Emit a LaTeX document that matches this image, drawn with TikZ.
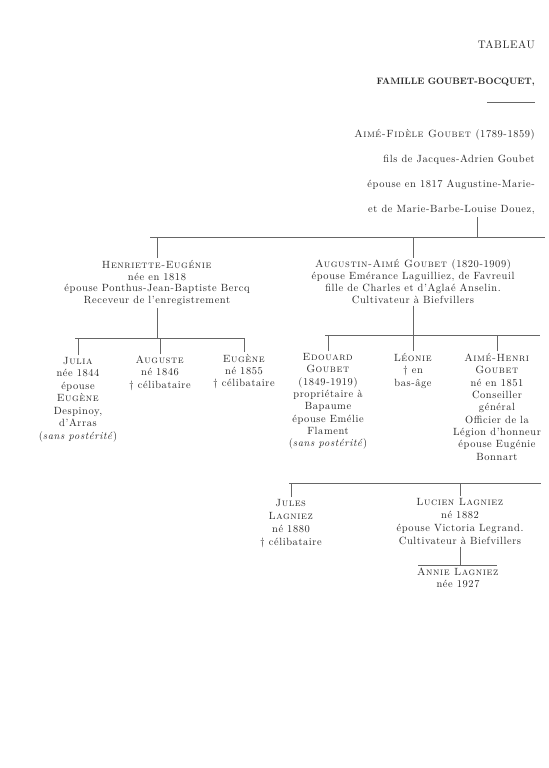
\documentclass[tikz,border=0pt]{standalone}
\usepackage{fontspec}
\setmainfont{lmroman10-regular.otf}[
  BoldFont=lmroman10-bold.otf,
  ItalicFont=lmroman10-italic.otf,
  SmallCapsFont=lmromancaps10-regular.otf,
  LetterSpace=5.5]
\definecolor{ink}{gray}{0.15}
\definecolor{rulec}{gray}{0.4}
\tikzset{
  txt/.style={align=center, inner sep=0pt, anchor=north, text=ink,
    font=\fontsize{10.5}{#1}\selectfont},
  txt/.default=12.4,
  ln/.style={draw=rulec, line width=0.6pt},
  conn/.style={ln, shorten <=2pt},
}
\begin{document}
\begin{tikzpicture}[x=1bp,y=-1bp]
\useasboundingbox[fill=white] (0,0) rectangle (549,768);
% heading
\node[txt, anchor=base east, font=\fontsize{11}{13}\selectfont] (tab) at (535,48.8) {TABLEAU};
\node[txt, anchor=base east, font=\fontsize{9.3}{11}\selectfont\bfseries\addfontfeatures{LetterSpace=0}] (fam) at (535,84.3) {FAMILLE GOUBET-BOCQUET,};
\coordinate (r1) at (487,102); \coordinate (r2) at (535,102);
\draw[ln] (r1) -- (r2);
\node[txt=25, align=right, anchor=north east] (afg) at (535,129)
 {\textsc{Aimé-Fidèle Goubet} (1789-1859)\\
  fils de Jacques-Adrien Goubet\\
  épouse en 1817 Augustine-Marie-\\
  et de Marie-Barbe-Louise Douez,};
% bar 1
\coordinate (b1L) at (150,237); \coordinate (b1R) at (545,237);
\coordinate (v0) at (477,217);
\draw[ln] (b1L) -- (b1R);
\draw[ln] (v0) -- (v0 |- b1L);
% generation 2
\node[txt=11.8] (henr) at (157,260)
 {\textsc{Henriette-Eugénie}\\
  née en 1818\\
  épouse Ponthus-Jean-Baptiste Bercq\\
  Receveur de l'enregistrement};
\node[txt=11.8] (augu) at (413,259.5)
 {\textsc{Augustin-Aimé Goubet} (1820-1909)\\
  épouse Emérance Laguilliez, de Favreuil\\
  fille de Charles et d'Aglaé Anselin.\\
  Cultivateur à Biefvillers};
\draw[conn] (henr.north) -- (henr.north |- b1L);
\draw[conn] (augu.north) -- (augu.north |- b1L);
% bar 2a
\coordinate (b2aL) at (75,338); \coordinate (b2aR) at (245,338);
\draw[ln] (b2aL) -- (b2aR);
\draw[conn] (henr.south) -- (henr.south |- b2aL);
\node[txt=12.5] (julia) at (78,357)
 {\textsc{Julia}\\née 1844\\épouse\\\textsc{Eugène}\\Despinoy,\\d'Arras\\(\textit{sans postérité})};
\node[txt=12.3] (aug2) at (160,356)
 {\textsc{Auguste}\\né 1846\\\textdagger{} célibataire};
\node[txt=12.3] (eug) at (244,354)
 {\textsc{Eugène}\\né 1855\\\textdagger{} célibataire};
\draw[conn] (julia.north) -- (julia.north |- b2aL);
\draw[conn] (aug2.north) -- (aug2.north |- b2aL);
\draw[conn] (eug.north) -- (eug.north |- b2aL);
% bar 2b
\coordinate (b2bL) at (325,335); \coordinate (b2bR) at (540,335);
\draw[ln] (b2bL) -- (b2bR);
\draw[conn] (augu.south) -- (augu.south |- b2bL);
\node[txt=12.4] (edo) at (328,353)
 {\textsc{Edouard}\\\textsc{Goubet}\\(1849-1919)\\propriétaire à\\Bapaume\\épouse Emélie\\Flament\\(\textit{sans postérité})};
\node[txt=12.4] (leo) at (413,353)
 {\textsc{Léonie}\\\textdagger{} en\\bas-âge};
\node[txt=12.4] (ahe) at (497,353)
 {\textsc{Aimé-Henri}\\\textsc{Goubet}\\né en 1851\\Conseiller\\général\\Officier de la\\Légion d'honneur\\épouse Eugénie\\Bonnart};
\draw[conn] (edo.north) -- (edo.north |- b2bL);
\draw[conn] (leo.north) -- (leo.north |- b2bL);
\draw[conn] (ahe.north) -- (ahe.north |- b2bL);
% bar 3
\coordinate (b3L) at (289,483); \coordinate (b3R) at (541,483);
\draw[ln] (b3L) -- (b3R);
\node[txt=13] (jul) at (291,499)
 {\textsc{Jules}\\\textsc{Lagniez}\\né 1880\\\textdagger{} célibataire};
\node[txt=13] (luc) at (460,498)
 {\textsc{Lucien Lagniez}\\né 1882\\épouse Victoria Legrand.\\Cultivateur à Biefvillers};
\draw[conn] (jul.north) -- (jul.north |- b3L);
\draw[conn] (luc.north) -- (luc.north |- b3L);
% bar 4
\coordinate (b4L) at (418,565); \coordinate (b4R) at (497,565);
\draw[ln] (b4L) -- (b4R);
\draw[conn] (luc.south) -- (luc.south |- b4L);
\node[txt=12] (ann) at (458,567.5)
 {\textsc{Annie Lagniez}\\née 1927};
\end{tikzpicture}
\end{document}
